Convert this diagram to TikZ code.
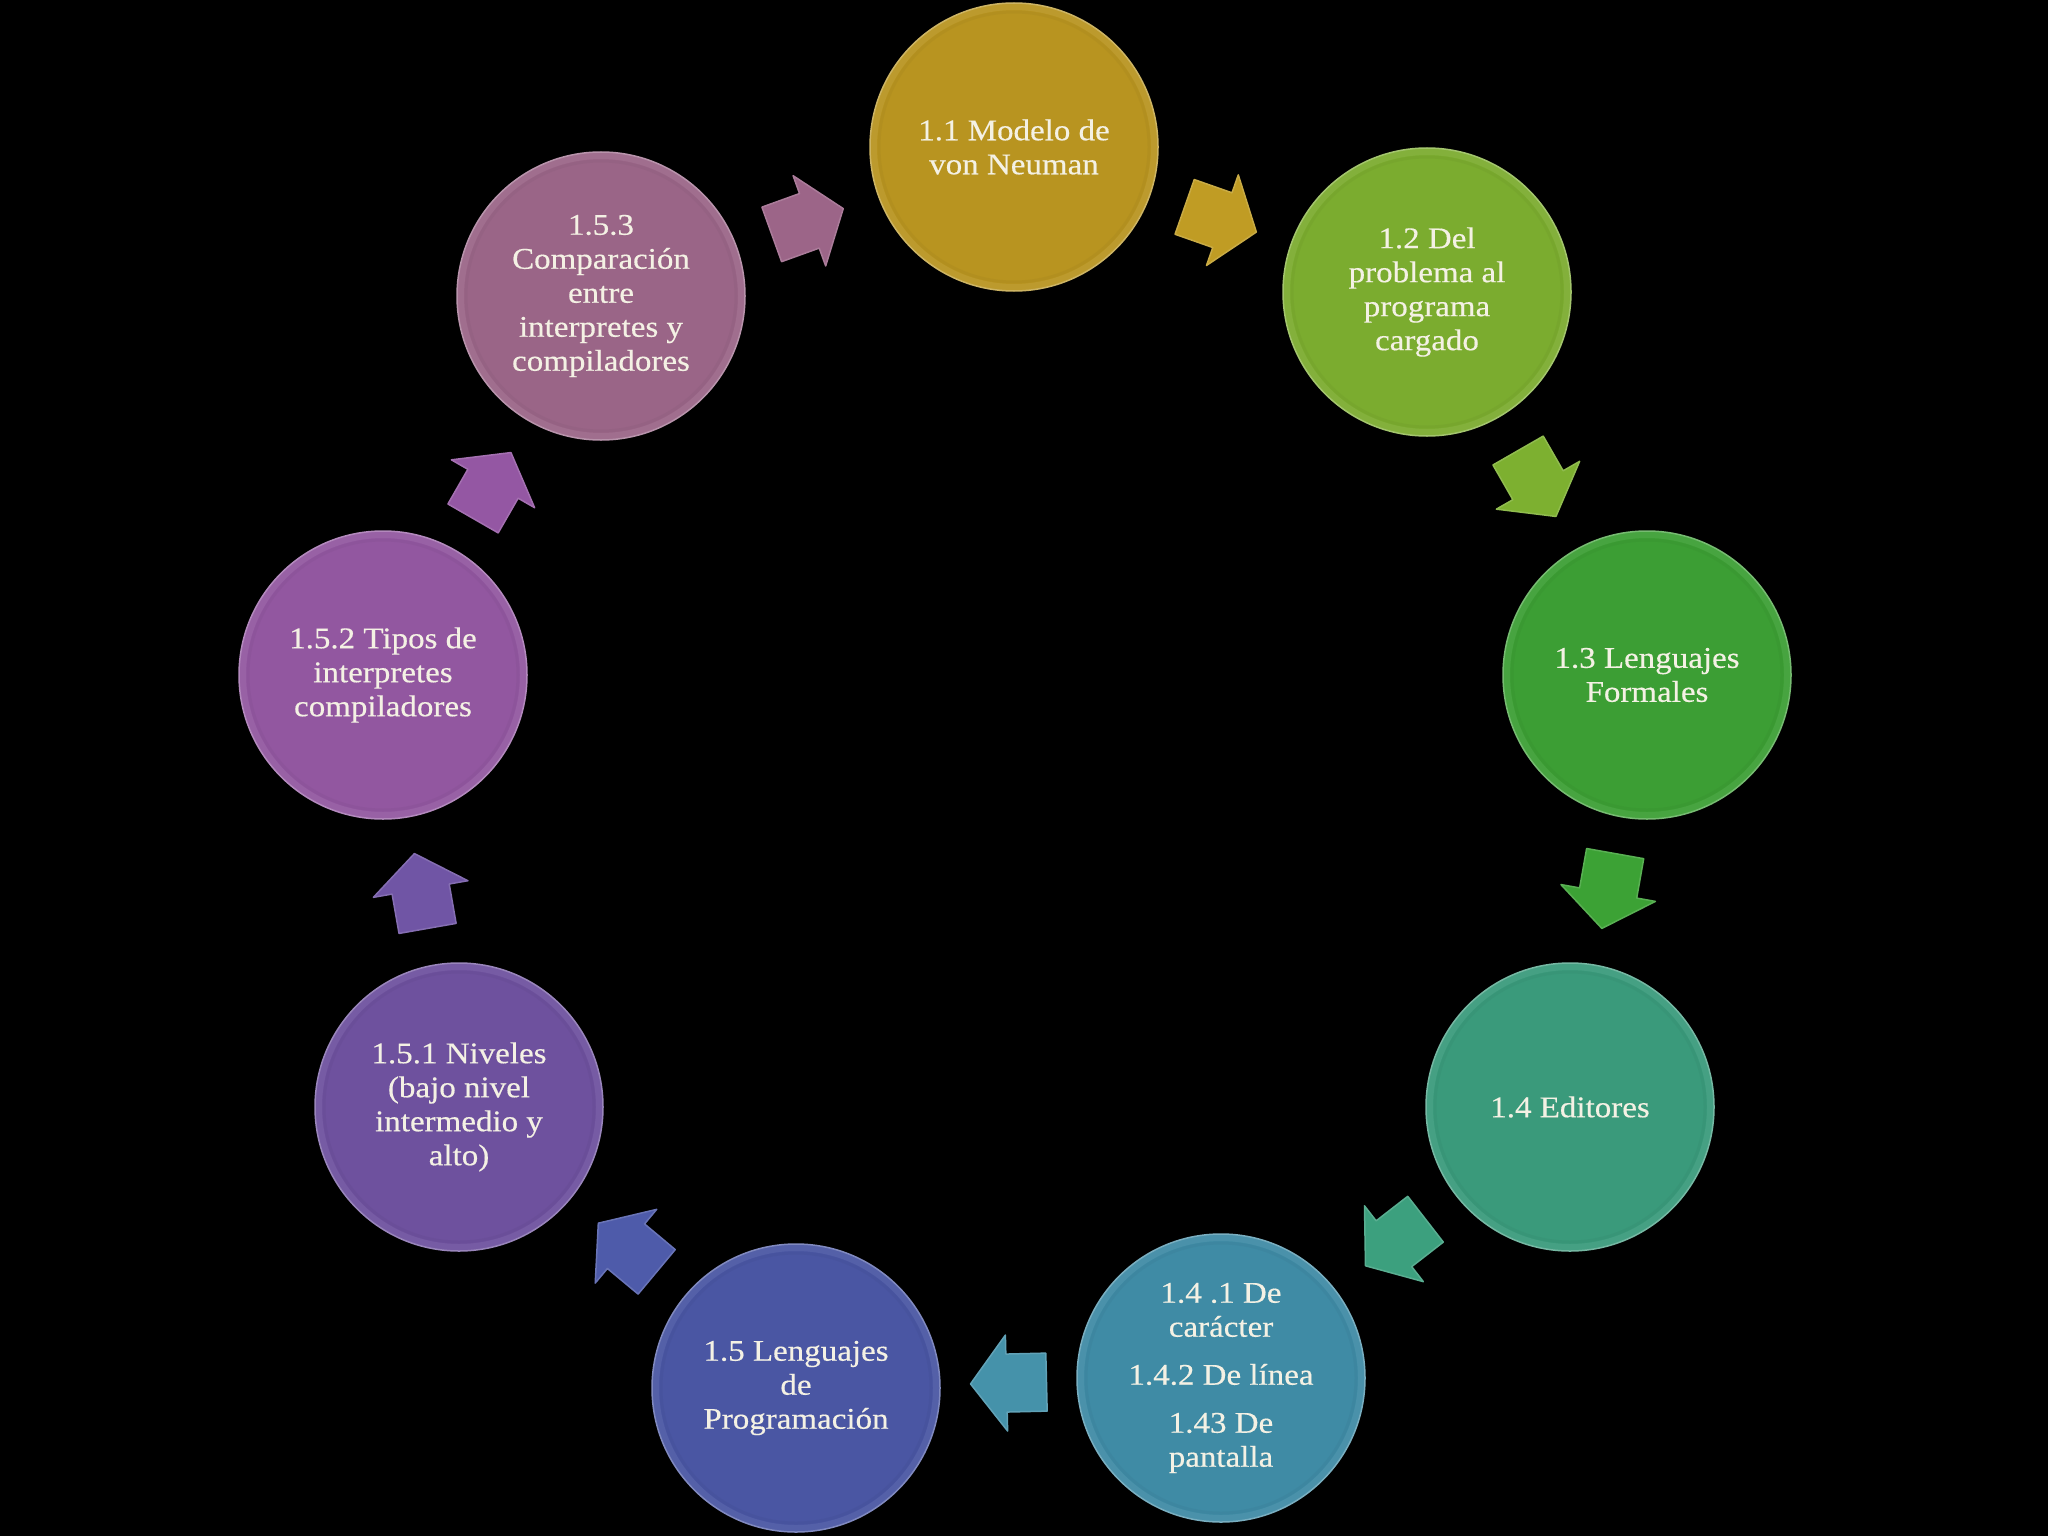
\documentclass[tikz,border=0pt]{standalone}
\usepackage{fontspec}
\setmainfont{Liberation Serif}[FakeStretch=1.1,FakeBold=0.4]
\usetikzlibrary{calc}
\definecolor{c1}{HTML}{B89420}
\definecolor{c2}{HTML}{7BAC2F}
\definecolor{c3}{HTML}{3C9E34}
\definecolor{c4}{HTML}{3A9A7B}
\definecolor{c5}{HTML}{3F8BA5}
\definecolor{c6}{HTML}{4A56A3}
\definecolor{c7}{HTML}{6E519E}
\definecolor{c8}{HTML}{9257A0}
\definecolor{c9}{HTML}{9A6587}
\definecolor{a1}{HTML}{C09C24}
\definecolor{a2}{HTML}{7DB030}
\definecolor{a3}{HTML}{3CA235}
\definecolor{a4}{HTML}{3CA07E}
\definecolor{a5}{HTML}{4592AA}
\definecolor{a6}{HTML}{4E5BAA}
\definecolor{a7}{HTML}{7055A5}
\definecolor{a8}{HTML}{9457A3}
\definecolor{a9}{HTML}{9C6588}
\definecolor{txt}{HTML}{F4F1E4}
\newcommand{\ballfont}{\fontsize{30}{34}\selectfont}
\tikzset{
  ball/.style={circle, minimum size=288pt, inner sep=0pt, fill=#1,
    draw=#1!70!white, line width=1.5pt, align=center, text=txt, font=\ballfont,
    path picture={
      \draw[#1!85!white, line width=12pt, opacity=0.4]
        (path picture bounding box.center) circle (143pt);
      \draw[#1!85!black, line width=3pt, opacity=0.2]
        (path picture bounding box.center) circle (135pt);
    }},
  blockarrow/.pic={
    \path[pic actions] (-38,-29) -- (2,-29) -- (2,-48) -- (38,0) -- (2,48)
      -- (2,29) -- (-38,29) -- cycle;
  },
  arr/.style={fill=#1, draw=#1!85!white, line width=1.5pt, line join=round}
}
\begin{document}
\begin{tikzpicture}[x=1pt,y=1pt]
\fill[black] (0,0) rectangle (2048,-1536);
\useasboundingbox (0,0) rectangle (2048,-1536);

\node[ball=c1] (n1) at (1014,-147) {1.1 Modelo de\\von Neuman};
\node[ball=c2] (n2) at (1427,-292) {1.2 Del\\problema al\\programa\\cargado};
\node[ball=c3] (n3) at (1647,-675) {1.3 Lenguajes\\Formales};
\node[ball=c4] (n4) at (1570,-1107) {1.4 Editores};
\node[ball=c5] (n5) at (1221,-1378) {1.4 .1 De\\carácter\\[14pt]1.4.2 De línea\\[14pt]1.43 De\\pantalla};
\node[ball=c6] (n6) at (796,-1388) {1.5 Lenguajes\\de\\Programación};
\node[ball=c7] (n7) at (459,-1107) {1.5.1 Niveles\\(bajo nivel\\intermedio y\\alto)};
\node[ball=c8] (n8) at (383,-675) {1.5.2 Tipos de\\interpretes\\compiladores};
\node[ball=c9] (n9) at (601,-296) {1.5.3\\Comparación\\entre\\interpretes y\\compiladores};

\foreach \s/\t/\col in {n1/n2/a1, n2/n3/a2, n3/n4/a3, n4/n5/a4, n5/n6/a5, n6/n7/a6, n7/n8/a7, n8/n9/a8, n9/n1/a9} {
  \path let \p1=($(\t)-(\s)$), \n1={atan2(\y1,\x1)} in
    ($(\s)!0.5!(\t)$) pic[rotate=\n1, arr=\col] {blockarrow};
}
\end{tikzpicture}
\end{document}
